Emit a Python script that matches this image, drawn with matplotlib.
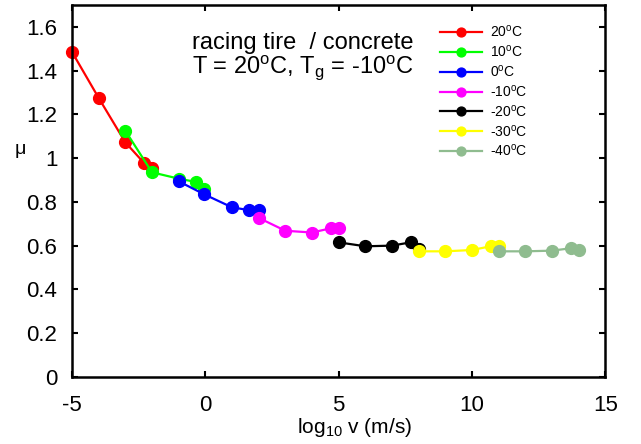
import matplotlib
matplotlib.use('Agg')
import matplotlib.pyplot as plt

plt.rcParams['font.family'] = ['Liberation Sans', 'DejaVu Sans']
plt.rcParams['mathtext.fontset'] = 'custom'
plt.rcParams['mathtext.rm'] = 'Liberation Sans'
plt.rcParams['mathtext.it'] = 'Liberation Sans'
plt.rcParams['axes.unicode_minus'] = False

# log10 v (m/s) and friction coefficient for each temperature
labels = ['20$^{\\rm o}$C', '10$^{\\rm o}$C', '0$^{\\rm o}$C', '-10$^{\\rm o}$C',
          '-20$^{\\rm o}$C', '-30$^{\\rm o}$C', '-40$^{\\rm o}$C']
colors = ['#ff0000', '#00ff00', '#0000ff', '#ff00ff', '#000000', '#ffff00', '#8fbc8f']

x_20 = [-5.0, -4.0, -3.0, -2.3, -2.0]
mu_20 = [1.485, 1.275, 1.072, 0.978, 0.953]
x_10 = [-3.0, -2.0, -1.0, -0.35, -0.05]
mu_10 = [1.125, 0.935, 0.906, 0.891, 0.857]
x_0 = [-1.0, -0.05, 1.0, 1.65, 2.0]
mu_0 = [0.894, 0.835, 0.775, 0.762, 0.762]
x_m10 = [2.0, 3.0, 4.0, 4.7, 5.0]
mu_m10 = [0.727, 0.668, 0.660, 0.679, 0.679]
x_m20 = [5.0, 6.0, 7.0, 7.7, 8.0]
mu_m20 = [0.615, 0.597, 0.600, 0.615, 0.584]
x_m30 = [8.0, 9.0, 10.0, 10.7, 11.0]
mu_m30 = [0.574, 0.574, 0.580, 0.597, 0.597]
x_m40 = [11.0, 12.0, 13.0, 13.7, 14.0]
mu_m40 = [0.574, 0.574, 0.577, 0.588, 0.580]

xs = [x_20, x_10, x_0, x_m10, x_m20, x_m30, x_m40]
mus = [mu_20, mu_10, mu_0, mu_m10, mu_m20, mu_m30, mu_m40]

fig = plt.figure(figsize=(6.41, 4.44), dpi=100)
ax = fig.add_axes([0.1123, 0.151, 0.832, 0.838])

for x, mu, lab, c in zip(xs, mus, labels, colors):
    ax.plot(x, mu, '-o', color=c, lw=1.6, ms=8.5, label=lab, clip_on=False)

ax.set_xlim(-5, 15)
ax.set_ylim(0, 1.7)
ax.set_xticks([-5, 0, 5, 10, 15])
ax.set_yticks([0, 0.2, 0.4, 0.6, 0.8, 1.0, 1.2, 1.4, 1.6])
ax.set_yticklabels(['0', '0.2', '0.4', '0.6', '0.8', '1', '1.2', '1.4', '1.6'])
ax.tick_params(direction='in', length=4, width=1.5, top=True, right=True,
               labelsize=16)
ax.tick_params(axis='x', pad=13)
ax.tick_params(axis='y', pad=10.5)
for s in ax.spines.values():
    s.set_linewidth(1.8)

ax.set_xlabel('log$_{10}$ v (m/s)', fontsize=15)
ax.xaxis.label.set_va('center')
ax.xaxis.set_label_coords(0.53, -0.137)
ax.set_ylabel('μ', fontsize=14, rotation=0, va='center')
ax.yaxis.set_label_coords(-0.097, 0.61)

ax.text(0.433, 0.898, 'racing tire  / concrete', transform=ax.transAxes,
        ha='center', va='center', fontsize=17)
ax.text(0.433, 0.831, 'T = 20$^{\\rm o}$C, T$_{\\rm g}$ = -10$^{\\rm o}$C',
        transform=ax.transAxes, ha='center', va='center', fontsize=17)

leg = ax.legend(loc='upper left', bbox_to_anchor=(0.667, 0.983), frameon=False,
                fontsize=10, handlelength=3, labelspacing=0.28, markerscale=0.75,
                handletextpad=0.6)

fig.savefig('out.png', dpi=100)
